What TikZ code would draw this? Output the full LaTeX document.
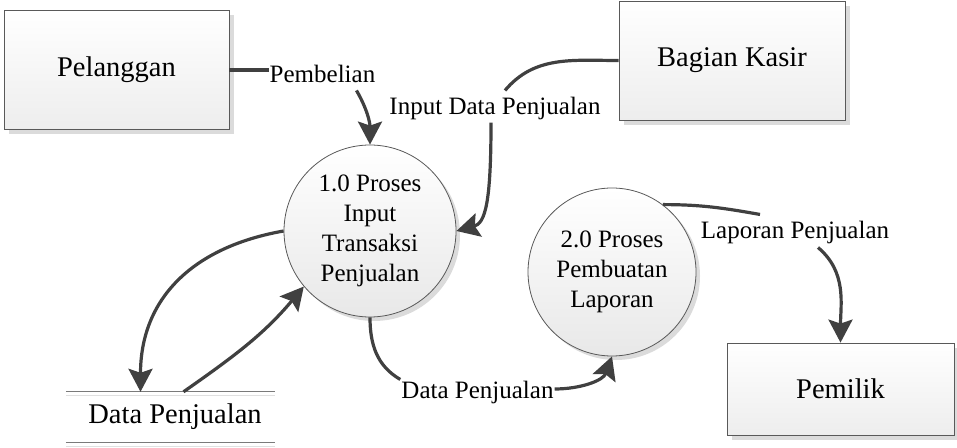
\documentclass[tikz,border=0pt]{standalone}
\usepackage{fontspec}
\setmainfont{Liberation Serif}
\newfontfamily\dfdfont{Liberation Serif}
\usetikzlibrary{positioning,shadows,arrows.meta}
\definecolor{flowgray}{HTML}{404040}
\definecolor{edgegray}{HTML}{595959}
\tikzset{entity/.style = {rectangle,draw=edgegray,line width=0.8pt,top color=white,bottom color=black!7,minimum width=225pt,minimum height=119pt,font=\dfdfont\fontsize{28.5}{34}\selectfont,drop shadow={shadow xshift=5pt,shadow yshift=-5pt,fill=black!14,opacity=1}}}
\tikzset{process/.style = {circle,draw=edgegray,line width=0.8pt,top color=white,bottom color=black!9,inner sep=0pt,minimum size=172pt,align=center,font=\dfdfont\fontsize{25}{30}\selectfont,drop shadow={shadow xshift=4pt,shadow yshift=-4pt,fill=black!14,opacity=1}}}
\tikzset{store/.style = {minimum width=209pt,minimum height=50pt,inner sep=0pt,font=\dfdfont\fontsize{28.5}{34}\selectfont}}
\tikzset{flowlabel/.style = {inner sep=1pt,font=\dfdfont\fontsize{25}{30}\selectfont}}
\tikzset{flow/.style = {draw=flowgray,line width=3.2pt}}
\tikzset{flowarrow/.style = {flow,-{Stealth[length=23pt,width=24pt,inset=4pt]}}}

\begin{document}
\begin{tikzpicture}[x=1pt,y=1pt]
            \useasboundingbox (0,0) rectangle (957,447);

            \node [entity] (pel) at (116.5,377) {Pelanggan};
            \node [entity,minimum width=226pt] (kasir) at (732,386.5) {Bagian Kasir};
            \node [entity,minimum width=227pt,minimum height=92pt] (pemilik) at (840.5,58) {Pemilik};

            \node [process] (p1) at (370,216) {1.0 Proses\\Input\\Transaksi\\Penjualan};
            \node [process,minimum size=168pt] (p2) at (612,175) {2.0 Proses\\Pembuatan\\Laporan};

            \node [store] (store) at (170.5,30) {\hspace{9pt}Data Penjualan};
            \draw [edgegray!80,line width=1pt] (store.north west) -- (store.north east);
            \draw [black!12,line width=1pt] ([yshift=-4pt]store.north west) -- ([yshift=-4pt]store.north east);
            \draw [edgegray!80,line width=1pt] (store.south west) -- (store.south east);
            \draw [black!12,line width=1pt] ([yshift=-4pt]store.south west) -- ([yshift=-4pt]store.south east);

            \node [flowlabel,anchor=base] (pembLbl) at (322.5,364) {Pembelian};
            \node [flowlabel,anchor=base] (inLbl) at (495,332) {Input Data Penjualan};
            \node [flowlabel,anchor=base] (dataLbl) at (477.5,49) {Data Penjualan};
            \node [flowlabel,anchor=base] (lapLbl) at (795,208) {Laporan Penjualan};

            \draw [flow] (pel.east) -- (pel.east -| pembLbl.west);
            \draw [flowarrow] ([xshift=-20pt,yshift=-6pt]pembLbl.south east) to [out=-60, in=90] (p1.north);

            \draw [flow] (kasir.west) to [out=180, in=50] ([xshift=10pt,yshift=6pt]inLbl.north);
            \draw [flowarrow] ([xshift=-4pt,yshift=-1pt]inLbl.south) to [out=-90, in=15, out distance=80pt, in distance=30pt] (p1.east);

            \draw [flowarrow] (p1.west) to [out=190, in=90, looseness=1.1] ([xshift=-30pt]store.north);
            \draw [flowarrow] ([xshift=13pt]store.north) to [out=35, in=230] (p1.220);

            \draw [flow] (p1.south) to [out=-90, in=150] (dataLbl.north west);
            \draw [flowarrow] ([yshift=3pt]dataLbl.east) to [out=0, in=250] (p2.south);

            \draw [flow] (p2.53) to [out=0, in=170] ([xshift=-35pt,yshift=6pt]lapLbl.north);
            \draw [flowarrow] ([xshift=23pt,yshift=-2pt]lapLbl.south) to [out=-40, in=90] (pemilik.north);
\end{tikzpicture}
\end{document}
